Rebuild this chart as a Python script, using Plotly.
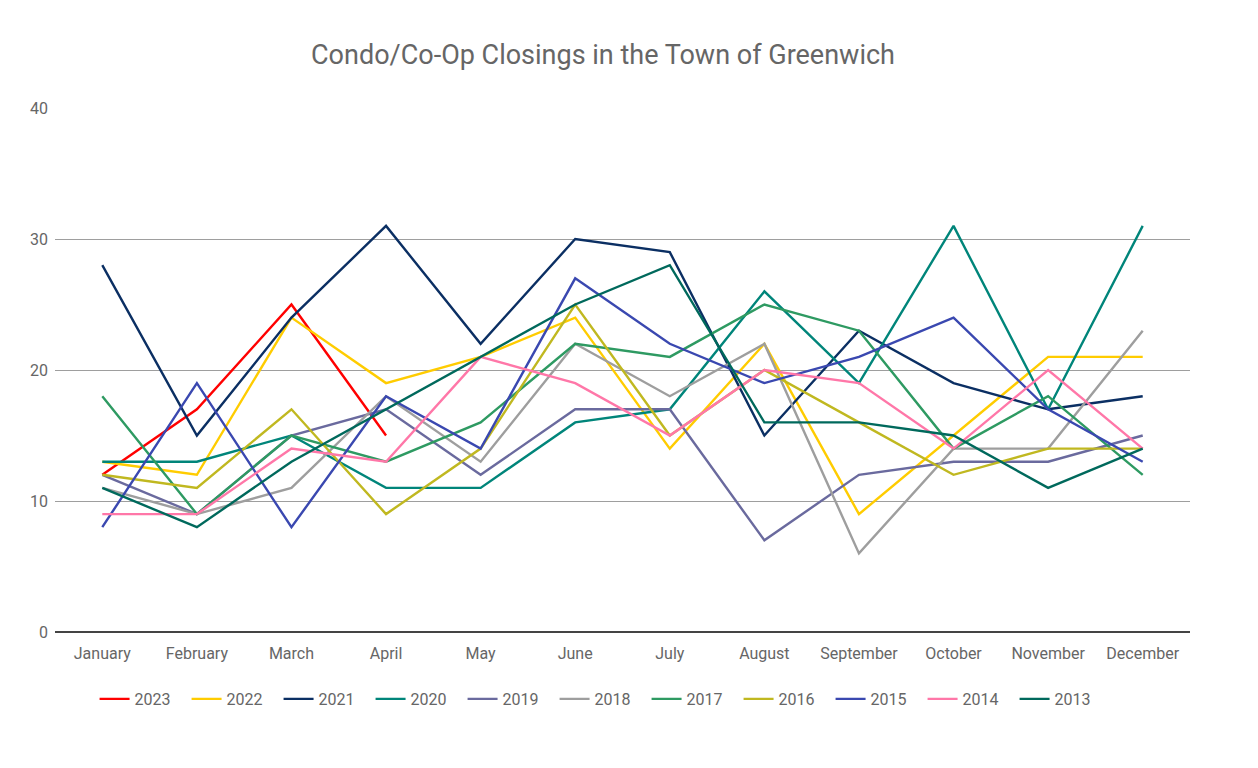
import plotly.graph_objects as go

months = ["January", "February", "March", "April", "May", "June", "July",
          "August", "September", "October", "November", "December"]

y2023 = [12, 17, 25, 15]
y2022 = [13, 12, 24, 19, 21, 24, 14, 22, 9, 15, 21, 21]
y2021 = [28, 15, 24, 31, 22, 30, 29, 15, 23, 19, 17, 18]
y2020 = [13, 13, 15, 11, 11, 16, 17, 26, 19, 31, 17, 31]
y2019 = [12, 9, 15, 17, 12, 17, 17, 7, 12, 13, 13, 15]
y2018 = [11, 9, 11, 18, 13, 22, 18, 22, 6, 14, 14, 23]
y2017 = [18, 9, 15, 13, 16, 22, 21, 25, 23, 14, 18, 12]
y2016 = [12, 11, 17, 9, 14, 25, 15, 20, 16, 12, 14, 14]
y2015 = [8, 19, 8, 18, 14, 27, 22, 19, 21, 24, 17, 13]
y2014 = [9, 9, 14, 13, 21, 19, 15, 20, 19, 14, 20, 14]
y2013 = [11, 8, 13, 17, 21, 25, 28, 16, 16, 15, 11, 14]

series = [
    ("2023", y2023, "#ff0000"),
    ("2022", y2022, "#ffcc00"),
    ("2021", y2021, "#0b2f63"),
    ("2020", y2020, "#00857a"),
    ("2019", y2019, "#6a6a9e"),
    ("2018", y2018, "#9e9e9e"),
    ("2017", y2017, "#2e9a62"),
    ("2016", y2016, "#c0b820"),
    ("2015", y2015, "#3a48b0"),
    ("2014", y2014, "#ff77a8"),
    ("2013", y2013, "#00695c"),
]

fig = go.Figure()
for name, vals, color in series:
    fig.add_trace(go.Scatter(
        x=months[:len(vals)], y=vals, name=name, mode="lines",
        line=dict(color=color, width=2.4),
    ))

W, H = 1242, 752
fig.update_layout(
    width=W, height=H,
    paper_bgcolor="white", plot_bgcolor="white",
    margin=dict(l=47, r=60, t=100, b=128),
    font=dict(family="Roboto", size=16, color="#666666"),
    title=dict(text="Condo/Co-Op Closings in the Town of Greenwich",
               x=595 / W, xanchor="center", y=1 - 47 / H, yanchor="middle",
               font=dict(family="Roboto", size=27, color="#666666")),
    showlegend=True,
    legend=dict(orientation="h", x=597 / W, xanchor="center",
                y=1 - 691 / H, yanchor="middle", yref="container",
                font=dict(size=16, color="#666666"),
                entrywidth=47, entrywidthmode="pixels", itemwidth=30),
    xaxis=dict(type="category", categoryorder="array", categoryarray=months,
               range=[-0.5, 11.5], showgrid=False, showline=False, ticks="",
               tickfont=dict(size=16, color="#666666"), zeroline=False,
               ticklabelstandoff=10),
    yaxis=dict(range=[0, 40], tickvals=[0, 10, 20, 30, 40], showgrid=True,
               gridcolor="#9e9e9e", gridwidth=1, zeroline=True,
               zerolinecolor="#444444", zerolinewidth=1.5, ticks="",
               tickfont=dict(size=16, color="#666666"), showline=False,
               ticklabelstandoff=6),
)

fig.write_html("out.html")
